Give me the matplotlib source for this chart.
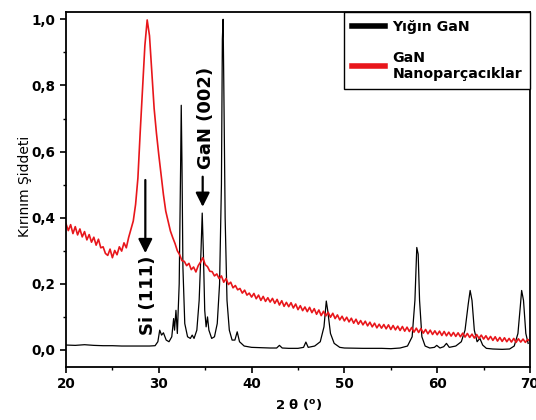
import numpy as np
import matplotlib
matplotlib.use("Agg")
import matplotlib.pyplot as plt

plt.rcParams['font.family'] = ['DejaVu Sans']

# Yığın GaN (siyah) - açı / şiddet
bulk_2theta = [20.0, 21.0, 22.0, 23.0, 24.0, 25.0, 26.0, 27.0, 28.0, 29.0, 29.6, 29.9,
               30.1, 30.3, 30.5, 30.8, 31.1, 31.4, 31.6, 31.7, 31.85, 32.0, 32.2, 32.35,
               32.42, 32.5, 32.6, 32.8, 33.1, 33.4, 33.6, 33.8, 34.1, 34.35, 34.55, 34.68,
               34.8, 34.95, 35.1, 35.25, 35.4, 35.7, 36.0, 36.3, 36.55, 36.75, 36.85, 36.93,
               37.0, 37.15, 37.35, 37.6, 37.9, 38.2, 38.45, 38.7, 39.2, 40.0, 41.0, 42.0,
               42.7, 43.0, 43.3, 44.0, 45.0, 45.6, 45.85, 46.1, 46.8, 47.4, 47.8, 48.05,
               48.2, 48.5, 48.9, 49.5, 50.0, 52.0, 54.0, 55.0, 56.0, 56.8, 57.3, 57.6,
               57.8, 57.95, 58.1, 58.35, 58.7, 59.2, 59.7, 59.95, 60.3, 60.7, 61.0, 61.3,
               62.0, 62.6, 63.0, 63.35, 63.55, 63.75, 64.0, 64.3, 64.6, 64.9, 65.3, 66.0,
               67.0, 67.8, 68.3, 68.7, 68.95, 69.1, 69.3, 69.55, 69.8]
bulk_int = [0.015, 0.014, 0.016, 0.014, 0.013, 0.013, 0.012, 0.012, 0.012, 0.012, 0.013, 0.025,
            0.060, 0.045, 0.052, 0.030, 0.025, 0.040, 0.095, 0.060, 0.120, 0.050, 0.200, 0.550,
            0.740, 0.560, 0.250, 0.080, 0.040, 0.035, 0.045, 0.035, 0.060, 0.150, 0.300, 0.414,
            0.300, 0.120, 0.070, 0.100, 0.060, 0.035, 0.040, 0.080, 0.200, 0.500, 0.940, 1.000,
            0.820, 0.400, 0.150, 0.060, 0.030, 0.030, 0.055, 0.025, 0.012, 0.008, 0.007, 0.006,
            0.006, 0.014, 0.006, 0.005, 0.005, 0.008, 0.024, 0.008, 0.012, 0.025, 0.070, 0.148,
            0.120, 0.050, 0.020, 0.008, 0.006, 0.005, 0.005, 0.004, 0.006, 0.012, 0.040, 0.150,
            0.310, 0.290, 0.150, 0.040, 0.012, 0.006, 0.008, 0.014, 0.006, 0.010, 0.020, 0.008,
            0.012, 0.025, 0.060, 0.140, 0.180, 0.150, 0.060, 0.025, 0.035, 0.015, 0.005, 0.003,
            0.002, 0.003, 0.012, 0.050, 0.130, 0.180, 0.150, 0.050, 0.020]

# GaN Nanoparçacıklar (kırmızı) - 20..70, 0.25 adım
nano_2theta = np.linspace(20, 70, 201)
nano_int = [0.382, 0.361, 0.379, 0.352, 0.373, 0.348, 0.366, 0.342,
            0.358, 0.333, 0.349, 0.326, 0.341, 0.317, 0.335, 0.309,
            0.312, 0.292, 0.286, 0.305, 0.279, 0.301, 0.288, 0.312,
            0.299, 0.324, 0.309, 0.340, 0.365, 0.390, 0.440, 0.520,
            0.660, 0.790, 0.920, 0.998, 0.950, 0.840, 0.730, 0.655,
            0.590, 0.530, 0.470, 0.420, 0.390, 0.360, 0.340, 0.322,
            0.300, 0.288, 0.270, 0.268, 0.255, 0.262, 0.243, 0.251,
            0.236, 0.255, 0.266, 0.279, 0.258, 0.252, 0.238, 0.237,
            0.224, 0.230, 0.216, 0.224, 0.205, 0.216, 0.198, 0.205,
            0.188, 0.195, 0.182, 0.186, 0.172, 0.181, 0.166, 0.172,
            0.160, 0.171, 0.155, 0.166, 0.150, 0.162, 0.147, 0.158,
            0.145, 0.156, 0.141, 0.153, 0.136, 0.149, 0.132, 0.144,
            0.131, 0.143, 0.127, 0.139, 0.122, 0.134, 0.119, 0.130,
            0.116, 0.129, 0.113, 0.125, 0.108, 0.121, 0.104, 0.117,
            0.103, 0.114, 0.099, 0.111, 0.095, 0.106, 0.091, 0.102,
            0.088, 0.099, 0.085, 0.096, 0.081, 0.093, 0.078, 0.089,
            0.076, 0.087, 0.073, 0.084, 0.070, 0.081, 0.067, 0.078,
            0.066, 0.077, 0.064, 0.076, 0.062, 0.074, 0.061, 0.072,
            0.059, 0.071, 0.057, 0.069, 0.056, 0.068, 0.054, 0.066,
            0.053, 0.065, 0.051, 0.062, 0.049, 0.060, 0.047, 0.058,
            0.046, 0.057, 0.044, 0.056, 0.043, 0.054, 0.042, 0.053,
            0.041, 0.052, 0.040, 0.051, 0.039, 0.050, 0.038, 0.048,
            0.036, 0.047, 0.035, 0.045, 0.033, 0.043, 0.031, 0.041,
            0.029, 0.040, 0.027, 0.038, 0.026, 0.037, 0.025, 0.035,
            0.024, 0.035, 0.023, 0.034, 0.024, 0.033, 0.023, 0.032,
            0.027]

x_ticks = [20, 30, 40, 50, 60, 70]
y_ticks = [0.0, 0.2, 0.4, 0.6, 0.8, 1.0]
y_tick_labels = ['0,0', '0,2', '0,4', '0,6', '0,8', '1,0']

fig = plt.figure(figsize=(5.36, 4.2), dpi=100)
ax = fig.add_axes([0.1231, 0.1262, 0.8657, 0.8452])

ax.plot(bulk_2theta, bulk_int, color='black', lw=0.9, label='Yığın GaN')
ax.plot(nano_2theta, nano_int, color='#e8161b', lw=1.2, label='GaN\nNanoparçacıklar')

ax.set_xlim(20, 70)
ax.set_ylim(-0.0514, 1.022)
ax.set_xticks(x_ticks)
ax.set_xticks([25, 35, 45, 55, 65], minor=True)
ax.set_yticks(y_ticks)
ax.set_yticklabels(y_tick_labels)
ax.set_yticks([0.1, 0.3, 0.5, 0.7, 0.9], minor=True)
ax.tick_params(which='major', direction='out', length=4, width=1.2, labelsize=9.75)
ax.tick_params(which='minor', direction='out', length=2.5, width=1.0)
for lab in ax.get_xticklabels() + ax.get_yticklabels():
    lab.set_fontweight('bold')
for sp in ax.spines.values():
    sp.set_linewidth(1.3)

ax.set_xlabel(r'2 θ (${}^{\mathbf{o}}$)', fontsize=9.5, fontweight='bold')
ax.xaxis.set_label_coords(0.501, -0.085)
ax.set_ylabel('Kırınım Şiddeti', fontsize=10)
ax.yaxis.set_label_coords(-0.073, 0.51)

# oklar ve etiketler
arrow = dict(arrowstyle='-|>,head_length=0.6,head_width=0.3', color='black',
             lw=1.6, mutation_scale=14, shrinkA=0, shrinkB=0)
ax.annotate('', xy=(28.55, 0.293), xytext=(28.55, 0.514), arrowprops=arrow)
ax.annotate('', xy=(34.73, 0.433), xytext=(34.73, 0.524), arrowprops=arrow)
ax.text(28.85, 0.165, 'Si (111)', rotation=90, ha='center', va='center',
        fontsize=13, fontweight='bold')
ax.text(35.14, 0.703, 'GaN (002)', rotation=90, ha='center', va='center',
        fontsize=13, fontweight='bold')

leg = ax.legend(loc='upper right', borderaxespad=0, fancybox=False,
                edgecolor='black', framealpha=1, handlelength=2.3,
                handletextpad=0.55, borderpad=0.55, labelspacing=1.2,
                prop={'size': 10.2, 'weight': 'bold'})
leg.get_frame().set_linewidth(1.0)
for h in leg.get_lines():
    h.set_linewidth(4)

fig.savefig('out.png', dpi=100)
